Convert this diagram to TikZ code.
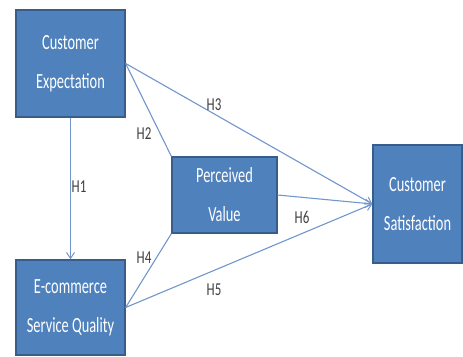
\documentclass[tikz,border=0pt]{standalone}
\usepackage{fontspec}
\setmainfont{Carlito}
\usetikzlibrary{arrows.meta}
\definecolor{boxfill}{HTML}{4F81BD}
\definecolor{boxline}{HTML}{385D8A}
\definecolor{linkcol}{HTML}{7096CC}
\definecolor{labcol}{HTML}{404040}
% stretched text line used inside the boxes
\newcommand\tallrow[1]{\scalebox{1}[1.5]{#1}}
\newcommand\tallhyp[1]{\scalebox{1}[1.4]{#1}}
\begin{document}
\begin{tikzpicture}[x=1pt,y=-1pt,
  construct/.style={draw=boxline, line width=1.3pt, fill=boxfill, text=white,
    align=center, inner sep=0pt, font=\fontsize{14.4}{26}\selectfont},
  link/.style={draw=linkcol, line width=1.1pt},
  arrowlink/.style={link, -{Straight Barb[length=6pt,width=8pt,line width=1pt]}},
  hyp/.style={text=labcol, font=\fontsize{13}{15}\selectfont, inner sep=0pt}]
  \useasboundingbox (0,0) rectangle (463,356);
  % constructs
  \node[construct, minimum width=109pt, minimum height=107pt] (ce) at (70.5,63.5)
    {\tallrow{Customer}\\[13pt]\tallrow{Expectation}};
  \node[construct, minimum width=109pt, minimum height=95pt] (eq) at (70.5,307.5)
    {\tallrow{E-commerce}\\[13pt]\tallrow{Service Quality}};
  \node[construct, minimum width=105pt, minimum height=76pt] (pv) at (224.5,195)
    {\tallrow{Perceived}\\[13pt]\tallrow{Value}};
  \node[construct, minimum width=89pt, minimum height=118pt] (cs) at (417.5,204)
    {\tallrow{Customer}\\[13pt]\tallrow{Satisfaction}};
  % hypothesised paths
  \draw[arrowlink] (ce.south) -- (eq.north);
  \draw[link] (ce.east) -- (pv.north west);
  \draw[arrowlink] (ce.east) -- (cs.west);
  \draw[link] (eq.east) -- (pv.south west);
  \draw[arrowlink] (eq.east) -- (cs.west);
  \draw[arrowlink] (pv.east) -- (cs.west);
  % path labels
  \node[hyp] (h1) at (79,187) {\tallhyp{H1}};
  \node[hyp] (h2) at (144,134) {\tallhyp{H2}};
  \node[hyp] (h3) at (214,105) {\tallhyp{H3}};
  \node[hyp] (h4) at (144,258) {\tallhyp{H4}};
  \node[hyp] (h5) at (214,290) {\tallhyp{H5}};
  \node[hyp] (h6) at (302,217) {\tallhyp{H6}};
\end{tikzpicture}
\end{document}
